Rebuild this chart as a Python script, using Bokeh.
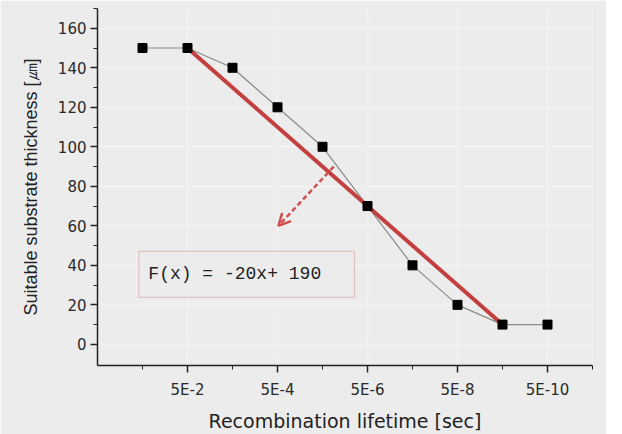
from bokeh.plotting import figure
from bokeh.models import FixedTicker, Arrow, OpenHead, BoxAnnotation, Label, Range1d
from bokeh.embed import file_html
from bokeh.resources import INLINE

# data
x_pos = [1, 2, 3, 4, 5, 6, 7, 8, 9, 10]
thickness = [150, 150, 140, 120, 100, 70, 40, 20, 10, 10]
x_tick_pos = [2, 4, 6, 8, 10]
x_tick_labels = ["5E-2", "5E-4", "5E-6", "5E-8", "5E-10"]
y_ticks = [0, 20, 40, 60, 80, 100, 120, 140, 160]
fit_slope = -20
fit_intercept = 190
fit_x = [2, 9]
fit_label = "F(x) = -20x+ 190"

BG = "#ececec"
RED = "#c44040"

p = figure(frame_width=495, frame_height=357, min_border_left=97, min_border_right=14,
           min_border_top=8, min_border_bottom=62,
           x_range=Range1d(0, 11), y_range=Range1d(-10.7, 170),
           output_backend="svg", toolbar_location=None,
           background_fill_color=BG, border_fill_color=BG)
p.outline_line_color = None

# axes
p.xaxis.ticker = FixedTicker(ticks=x_tick_pos, minor_ticks=[1, 3, 5, 7, 9, 11])
p.xaxis.major_label_overrides = {k: v for k, v in zip(x_tick_pos, x_tick_labels)}
p.yaxis.ticker = FixedTicker(ticks=y_ticks, minor_ticks=[10, 30, 50, 70, 90, 110, 130, 150, 170])
for ax in (p.xaxis[0], p.yaxis[0]):
    ax.axis_line_color = "#222222"
    ax.axis_line_width = 1.5
    ax.major_tick_line_color = "#222222"
    ax.minor_tick_line_color = "#222222"
    ax.major_tick_line_width = 1.5
    ax.major_tick_out = 7
    ax.major_tick_in = 0
    ax.minor_tick_out = 4
    ax.minor_tick_in = 0
    ax.major_label_text_font = "DejaVu Sans"
    ax.major_label_text_font_size = "15px"
    ax.major_label_text_color = "#2a2a2a"
    ax.axis_label_text_font_style = "normal"
    ax.axis_label_text_color = "#222222"

p.xaxis.axis_label = "Recombination lifetime [sec]"
p.yaxis.axis_label = "Suitable substrate thickness [\u339b]"
p.xaxis.axis_label_text_font = "DejaVu Sans"
p.xaxis.axis_label_text_font_size = "19px"
p.yaxis.axis_label_text_font = "Liberation Sans"
p.yaxis.axis_label_text_font_size = "18px"
p.xaxis.major_label_standoff = 8
p.xaxis.axis_label_standoff = 8
p.yaxis.major_label_standoff = 4
p.yaxis.axis_label_standoff = 14

p.xgrid.ticker = FixedTicker(ticks=x_tick_pos)
p.xgrid.grid_line_color = "#f1f1f1"
p.ygrid.grid_line_color = "#f1f1f1"
p.xgrid.grid_line_width = 2
p.ygrid.grid_line_width = 2

# data line & markers
p.line(x_pos, thickness, line_color="#8a8a8a", line_width=1.2)

# fit line
fit_y = [fit_slope * xv + fit_intercept for xv in fit_x]
p.line(fit_x, fit_y, line_color=RED, line_width=4)

p.scatter(x_pos, thickness, marker="square", size=9, fill_color="black", line_color="black")

# dashed arrow
p.add_layout(Arrow(x_start=5.25, y_start=90, x_end=4.02, y_end=60,
                   line_color="#d05050", line_width=2.5, line_dash="5 3",
                   end=OpenHead(size=12, line_color="#d05050", line_width=2.5)))

# formula box
p.add_layout(BoxAnnotation(left=0.92, right=5.71, bottom=23.8, top=47.1,
                           fill_color=BG, fill_alpha=1, line_color="#c86060", line_width=1.2))
p.add_layout(Label(x=1.13, y=35.5, text=fit_label, text_font="Liberation Mono",
                   text_font_size="18px", text_color="#222222", text_baseline="middle"))

open("out.html", "w").write(file_html(p, INLINE))
